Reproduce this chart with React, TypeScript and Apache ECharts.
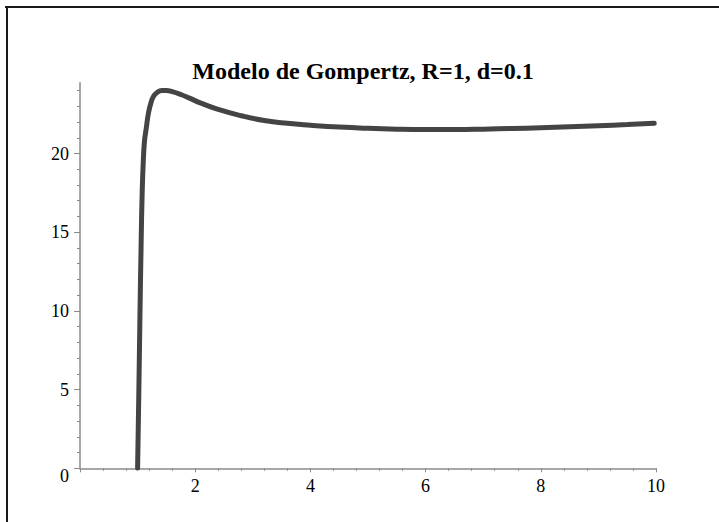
import React, { useEffect, useRef } from "react";
import * as echarts from "echarts";

const titleText = "Modelo de Gompertz, R=1, d=0.1";
const xValues = [1.0, 1.02, 1.04, 1.06, 1.08, 1.1, 1.12, 1.15, 1.19, 1.23, 1.28, 1.34, 1.42, 1.5, 1.6, 1.75, 1.9, 2.1, 2.4, 2.8, 3.2, 3.6, 4.0, 4.5, 5.0, 5.5, 6.0, 6.5, 7.0, 7.5, 8.0, 8.5, 9.0, 9.5, 9.97];
const yValues = [0, 4.5, 9.5, 14, 17.6, 19.6, 20.8, 21.6, 22.6, 23.2, 23.65, 23.88, 24.0, 24.0, 23.93, 23.75, 23.52, 23.2, 22.8, 22.4, 22.1, 21.92, 21.8, 21.68, 21.6, 21.55, 21.53, 21.53, 21.55, 21.59, 21.64, 21.7, 21.77, 21.84, 21.92];
const yMajorTicks = [0, 5, 10, 15, 20];
const yMinorTicks = [1, 2, 3, 4, 6, 7, 8, 9, 11, 12, 13, 14, 16, 17, 18, 19, 21, 22, 23, 24];

export default function App() {
  const ref = useRef<HTMLDivElement>(null);
  useEffect(() => {
    document.body.style.margin = "0";
    const chart = echarts.init(ref.current!, null, { renderer: "svg" });
    const axisColor = "#8a8a8a";
    const font = "'Liberation Serif', 'DejaVu Serif', serif";
    chart.setOption({
      animation: false,
      backgroundColor: "#ffffff",
      title: {
        text: titleText,
        left: 358,
        top: 54,
        textAlign: "center",
        textStyle: { fontFamily: font, fontWeight: "bold", fontSize: 24, color: "#000" },
      },
      graphic: [
        { type: "line", shape: { x1: 5, y1: 7, x2: 719, y2: 7 }, style: { stroke: "#1a1a1a", lineWidth: 2 } },
        { type: "line", shape: { x1: 7, y1: 6, x2: 7, y2: 522 }, style: { stroke: "#1a1a1a", lineWidth: 2 } },
      ],
      grid: { left: 80, right: 63, top: 82.7, bottom: 53.7, containLabel: false },
      xAxis: {
        type: "value",
        min: 0,
        max: 10,
        interval: 2,
        axisLine: { onZero: false, lineStyle: { color: axisColor, width: 1.5 } },
        axisTick: { show: true, length: 4, lineStyle: { color: axisColor } },
        minorTick: { show: true, splitNumber: 5, length: 2.5, lineStyle: { color: axisColor } },
        splitLine: { show: false },
        axisLabel: {
          showMinLabel: false,
          margin: 9,
          color: "#000",
          fontFamily: font,
          fontSize: 18,
        },
      },
      yAxis: [
        {
          type: "value",
          min: 0,
          max: 24.5,
          interval: 1,
          axisLine: { show: true, onZero: false, lineStyle: { color: axisColor, width: 1.5 } },
          axisTick: { show: true, length: 3, customValues: yMinorTicks, lineStyle: { color: axisColor } },
          splitLine: { show: false },
          axisLabel: { show: false },
        },
        {
          type: "value",
          min: 0,
          max: 24.5,
          interval: 1,
          position: "left",
          axisLine: { show: false },
          axisTick: { show: true, length: 6, customValues: yMajorTicks, lineStyle: { color: axisColor } },
          splitLine: { show: false },
          axisLabel: {
            customValues: yMajorTicks,
            margin: 11,
            color: "#000",
            fontFamily: font,
            fontSize: 18,
            formatter: (v: number) => (v === 0 ? "{z|0}" : String(v)),
            rich: { z: { padding: [16, 0, 0, 0], fontFamily: font, fontSize: 18, color: "#000" } },
          },
        },
      ],
      series: [
        {
          type: "line",
          yAxisIndex: 0,
          data: xValues.map((x, i) => [x, yValues[i]]),
          smooth: 0.5,
          showSymbol: false,
          lineStyle: { color: "#444444", width: 5, cap: "round", join: "round" },
        },
      ],
    });
    return () => chart.dispose();
  }, []);
  return <div ref={ref} style={{ width: 719, height: 522 }} />;
}
